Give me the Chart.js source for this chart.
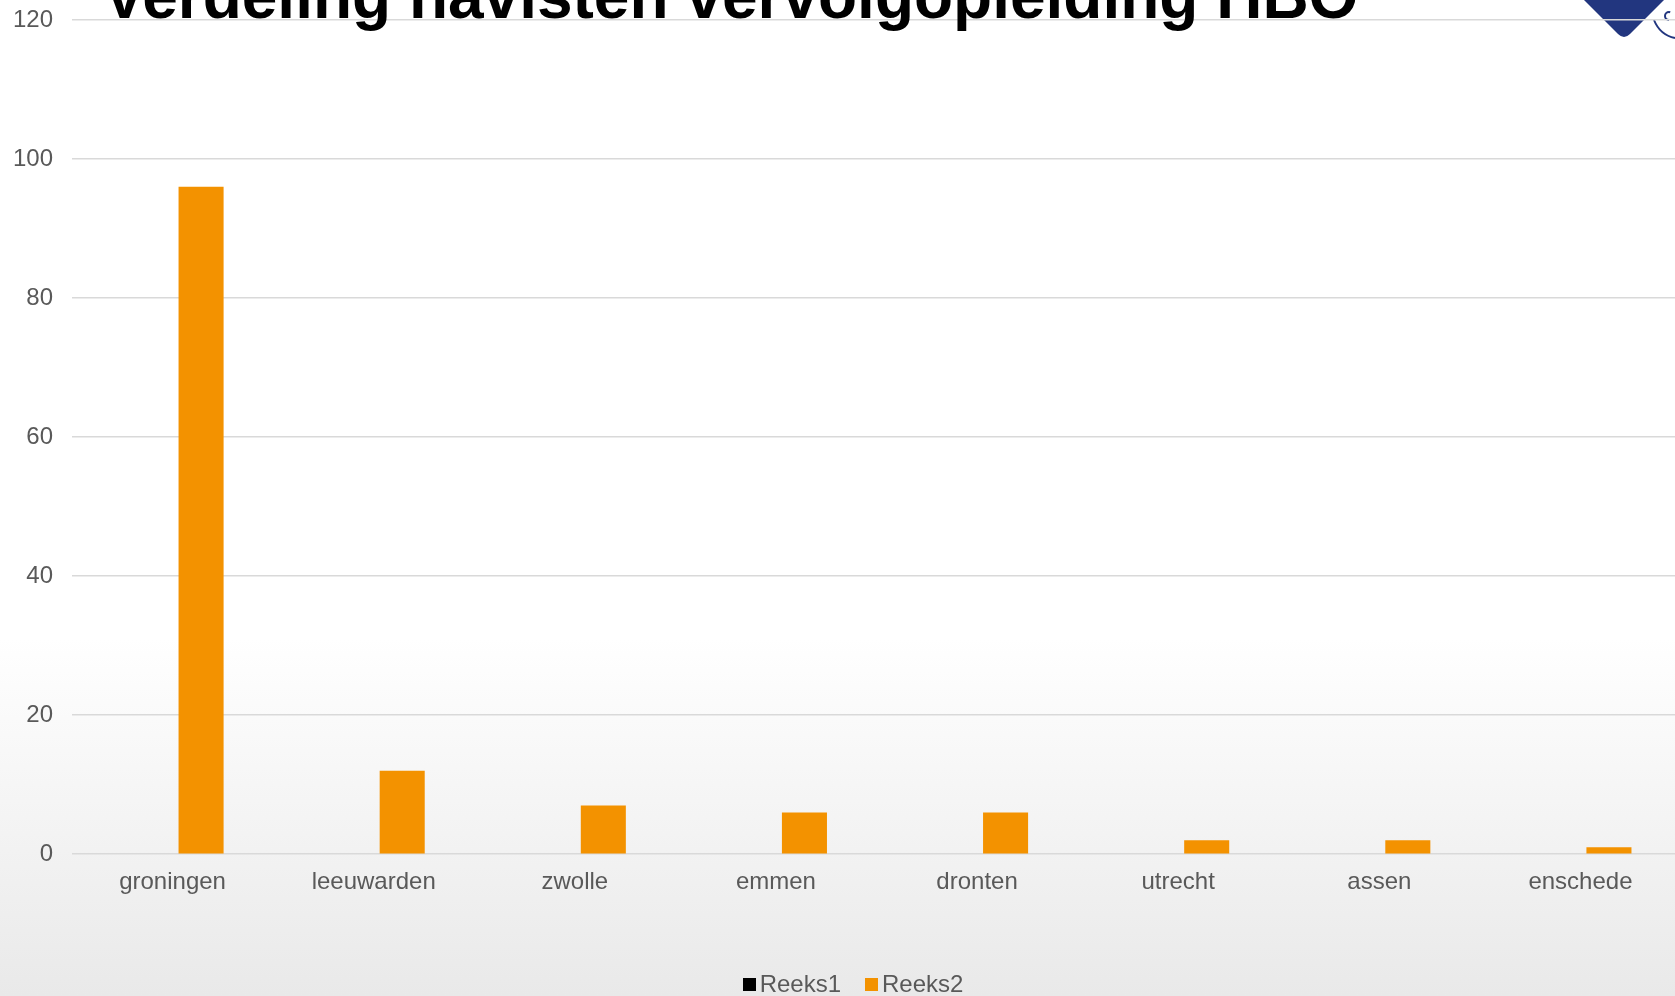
<!DOCTYPE html>
<html>
<head>
<meta charset="utf-8">
<script src="https://cdn.jsdelivr.net/npm/chart.js@4/dist/chart.umd.min.js"></script>
<style>
    html, body { margin: 0; padding: 0; overflow: hidden; }
    body {
        width: 1675px; height: 996px;
        background: linear-gradient(to bottom, #ffffff 0%, #ffffff 64%, #f4f4f4 82%, #e9e9e9 100%);
        font-family: "Liberation Sans", Arial, sans-serif;
    }
    #wrap { position: absolute; left: 0; top: 0; width: 1681px; height: 996px; }
    #legenda {
        position: absolute; top: 970px; left: 0; width: 1706px;
        display: flex; justify-content: center; gap: 24px;
        font-size: 24px; color: #595959;
    }
    #legenda span.item { display: flex; align-items: center; }
    #legenda span.box { width: 13px; height: 13px; margin-right: 4px; display: inline-block; }
</style>
</head>
<body>
<div id="wrap"><canvas id="myChart"></canvas></div>
<div id="legenda"></div>

<script>
// gegevens uit de grafiek
const titel = 'Verdeling havisten vervolgopleiding HBO';
const steden = ['groningen', 'leeuwarden', 'zwolle', 'emmen', 'dronten', 'utrecht', 'assen', 'enschede'];
const reeks1 = [0, 0, 0, 0, 0, 0, 0, 0];
const reeks2 = [96, 12, 7, 6, 6, 2, 2, 1];
const reeksNamen = ['Reeks1', 'Reeks2'];
const reeksKleuren = ['#000000', '#f39200'];

const grijs = '#595959';

// titel (bovenkant valt buiten beeld) en stukje logo
const achtergrond = {
    id: 'achtergrond',
    beforeDraw(chart) {
        var ctx = chart.ctx;
        ctx.save();
        ctx.fillStyle = '#22367f';
        ctx.beginPath();
        ctx.moveTo(1584, 0);
        ctx.lineTo(1664, 0);
        ctx.lineTo(1630, 34);
        ctx.quadraticCurveTo(1624, 40, 1618, 34);
        ctx.closePath();
        ctx.fill();
        ctx.strokeStyle = '#22367f';
        ctx.lineWidth = 2;
        ctx.beginPath();
        ctx.moveTo(1654, 20);
        ctx.quadraticCurveTo(1660, 35, 1675, 38);
        ctx.stroke();
        ctx.beginPath();
        ctx.arc(1669, 16, 4, Math.PI * 0.5, Math.PI * 1.6);
        ctx.stroke();
        ctx.restore();
    },
    afterDraw(chart) {
        var ctx = chart.ctx;
        ctx.save();
        ctx.font = 'bold 64px "Liberation Sans", Arial, sans-serif';
        ctx.fillStyle = '#000000';
        ctx.textBaseline = 'alphabetic';
        ctx.fillText(titel, 103, 18);
        ctx.restore();
    }
};

const config = {
    type: 'bar',
    data: {
        labels: steden,
        datasets: [
            { label: reeksNamen[0], data: reeks1, backgroundColor: reeksKleuren[0] },
            { label: reeksNamen[1], data: reeks2, backgroundColor: reeksKleuren[1] }
        ]
    },
    options: {
        responsive: true,
        maintainAspectRatio: false,
        animation: false,
        categoryPercentage: 0.567,
        barPercentage: 0.79,
        layout: { padding: { top: 20, left: 12, right: 0, bottom: 85 } },
        plugins: {
            legend: { display: false },
            tooltip: { enabled: false }
        },
        scales: {
            x: {
                grid: { display: false, drawTicks: false },
                border: { display: false },
                ticks: { color: grijs, font: { size: 24, family: '"Liberation Sans", Arial' }, padding: 14, maxRotation: 0 }
            },
            y: {
                min: 0,
                max: 120,
                grid: { color: '#d9d9d9', lineWidth: 1.5, drawTicks: false },
                border: { display: false },
                ticks: { stepSize: 20, color: grijs, font: { size: 24, family: '"Liberation Sans", Arial' }, padding: 19 },
                afterFit(as) { as.width = 60; as.paddingTop = 0; }
            }
        }
    },
    plugins: [achtergrond]
};

var ctx = document.getElementById('myChart').getContext('2d');
var chart = new Chart(ctx, config);

// legenda onderaan
var legenda = document.getElementById('legenda');
reeksNamen.forEach(function (naam, i) {
    var item = document.createElement('span');
    item.className = 'item';
    item.innerHTML = '<span class="box" style="background:' + reeksKleuren[i] + '"></span>' + naam;
    legenda.appendChild(item);
});
</script>
</body>
</html>
